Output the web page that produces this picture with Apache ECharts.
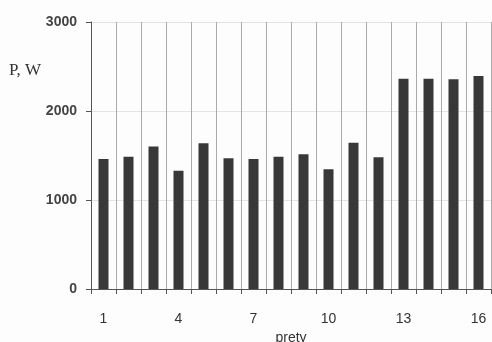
<!DOCTYPE html>
<html>
<head>
<meta charset="utf-8">
<script src="https://cdn.jsdelivr.net/npm/echarts@6/dist/echarts.min.js"></script>
<style>
  html, body { margin: 0; padding: 0; background: #fdfdfd; }
  #chart { width: 492px; height: 342px; }
</style>
</head>
<body>
<div id="chart"></div>
<script>
// Power per rod (pręt), in watts
const rods = ['1','2','3','4','5','6','7','8','9','10','11','12','13','14','15','16'];
const power = [1460, 1487, 1600, 1330, 1637, 1468, 1461, 1487, 1513, 1345, 1644, 1480, 2363, 2363, 2356, 2393];
const yTicks = { min: 0, max: 3000, step: 1000 };

const chart = echarts.init(document.getElementById('chart'));
chart.setOption({
  backgroundColor: '#fdfdfd',
  animation: false,
  grid: { left: 91, right: 1, top: 22, bottom: 53, containLabel: false, outerBoundsMode: 'none' },
  xAxis: {
    type: 'category',
    data: rods,
    boundaryGap: true,
    name: 'pręty',
    nameLocation: 'middle',
    nameGap: 34,
    nameTextStyle: { fontFamily: 'Liberation Sans', fontSize: 14, color: '#333' },
    axisLine: { lineStyle: { color: '#555', width: 1 } },
    axisTick: { show: true, interval: 0, length: 5, lineStyle: { color: '#555' } },
    axisLabel: { interval: 2, margin: 23, fontFamily: 'Liberation Sans', fontSize: 14, color: '#333' },
    splitLine: { show: true, interval: 0, lineStyle: { color: '#aaa', width: 1 } }
  },
  yAxis: {
    type: 'value',
    min: yTicks.min,
    max: yTicks.max,
    interval: yTicks.step,
    axisLine: { show: true, lineStyle: { color: '#555', width: 1 } },
    axisTick: { show: true, length: 5, lineStyle: { color: '#555' } },
    axisLabel: {
      margin: 14, fontFamily: 'Liberation Sans', fontSize: 14, fontWeight: 'bold', color: '#444',
      formatter: v => String(v)
    },
    splitLine: { show: true, lineStyle: { color: '#e4e4e4', width: 1 } }
  },
  graphic: [{
    type: 'text',
    left: 9,
    top: 62,
    style: { text: 'P, W', font: '17px "Liberation Serif"', fill: '#333' }
  }],
  series: [{
    type: 'bar',
    data: power,
    barWidth: 10,
    itemStyle: { color: '#383838' }
  }]
});
</script>
</body>
</html>
